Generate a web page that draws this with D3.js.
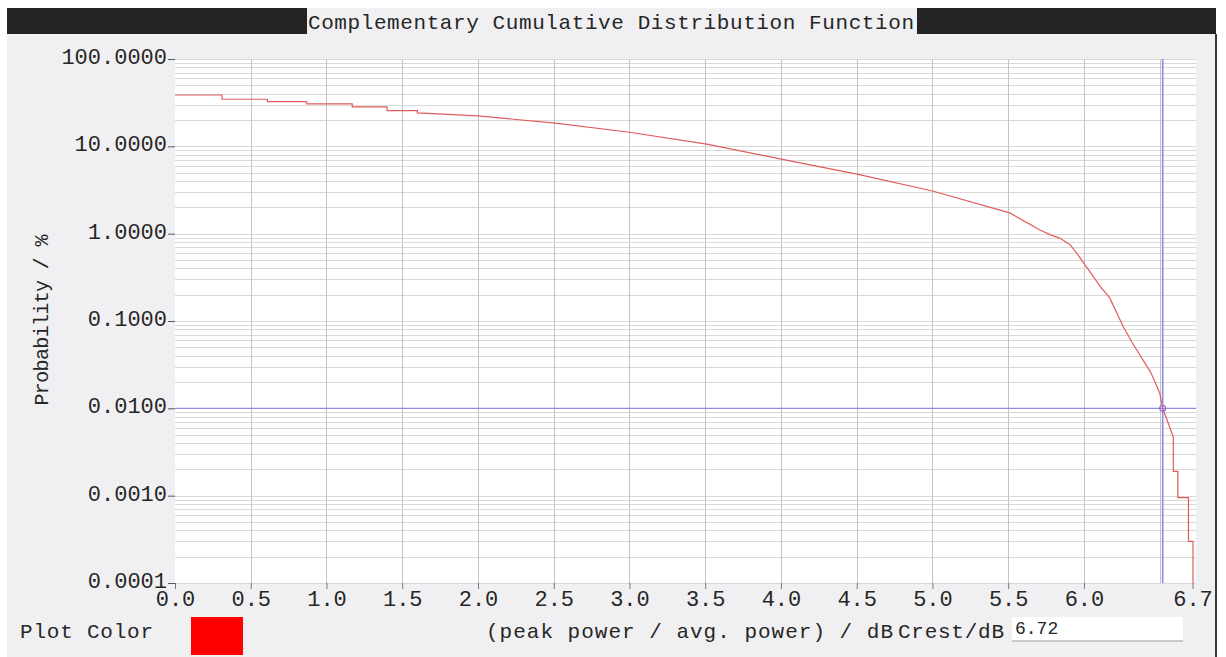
<!DOCTYPE html>
<html>
<head>
<meta charset="utf-8">
<script src="https://cdn.jsdelivr.net/npm/d3@7"></script>
<style>
  html, body { margin: 0; padding: 0; background: #fff; }
  svg { display: block; }
  text { font-family: "Liberation Mono", "DejaVu Sans Mono", monospace; fill: #262626; }
</style>
</head>
<body>
<svg id="chart" width="1226" height="657"></svg>
<script>
// CCDF curve (x in dB, y in %)
const ccdfDb  = [0.00, 0.31, 0.31, 0.61, 0.61, 0.87, 0.87, 1.17, 1.17, 1.40, 1.40, 1.60, 1.60, 2.00, 2.51, 3.00, 3.51, 4.01, 4.51, 5.00, 5.51, 5.71, 5.78, 5.84, 5.91, 5.97, 6.11, 6.17, 6.26, 6.32, 6.44, 6.50, 6.52, 6.59, 6.59, 6.62, 6.62, 6.69, 6.69, 6.72, 6.72];
const ccdfPct = [38.7, 38.7, 34.6, 34.6, 32.5, 32.5, 30.6, 30.6, 28.3, 28.3, 25.6, 25.6, 24.1, 22.3, 18.4, 14.5, 10.6, 7.10, 4.78, 3.08, 1.73, 1.10, 0.97, 0.89, 0.745, 0.543, 0.246, 0.184, 0.086, 0.056, 0.026, 0.0151, 0.0100, 0.0047, 0.0019, 0.0019, 0.00095, 0.00095, 0.0003, 0.0003, 0.0001];

const xTicks = [0, 0.5, 1, 1.5, 2, 2.5, 3, 3.5, 4, 4.5, 5, 5.5, 6];
const xEndLabel = 6.7;
const xMax = 6.72;
const yTicks = [0.0001, 0.001, 0.01, 0.1, 1, 10, 100];

const cursorDb = 6.52;
const cursorPct = 0.01;
const crestText = '6.72';

const svg = d3.select('#chart');

// panel + title bar
svg.append('rect').attr('x', 7).attr('y', 8).attr('width', 1209).attr('height', 649).attr('fill', '#f0f0f2');
svg.append('rect').attr('x', 7).attr('y', 8).attr('width', 300).attr('height', 26).attr('fill', '#232323');
svg.append('rect').attr('x', 917).attr('y', 8).attr('width', 299).attr('height', 26).attr('fill', '#232323');
svg.append('rect').attr('x', 1215).attr('y', 34).attr('width', 2).attr('height', 623).attr('fill', '#3a3a3a');
svg.append('text')
    .attr('x', 308).attr('y', 29)
    .attr('textLength', 606).attr('lengthAdjust', 'spacing')
    .style('font-size', '21px')
    .text('Complementary Cumulative Distribution Function');

const plotLeft = 175, plotRight = 1193, plotTop = 59, plotBottom = 583, gridRight = 1196;

const x = d3.scaleLinear().domain([0, xMax]).range([plotLeft, plotRight]);
const y = d3.scaleLog().domain([0.0001, 100]).range([plotBottom, plotTop]);

// plot area
svg.append('rect')
    .attr('x', plotLeft).attr('y', plotTop)
    .attr('width', gridRight - plotLeft).attr('height', plotBottom - plotTop)
    .attr('fill', '#ffffff');

// horizontal log grid
const minor = [];
yTicks.slice(0, -1).forEach(d => { for (let k = 1; k <= 9; k++) minor.push(d * k); });
minor.push(100);
svg.append('g').selectAll('line')
    .data(minor)
    .enter()
    .append('line')
    .attr('x1', plotLeft).attr('x2', gridRight)
    .attr('y1', d => Math.round(y(d)) + 0.5)
    .attr('y2', d => Math.round(y(d)) + 0.5)
    .attr('stroke', '#d9d9d9')
    .attr('stroke-width', 1);

// vertical grid
svg.append('g').selectAll('line')
    .data(xTicks.slice(1).concat([6.5]))
    .enter()
    .append('line')
    .attr('x1', d => Math.round(x(d)) + 0.5)
    .attr('x2', d => Math.round(x(d)) + 0.5)
    .attr('y1', plotTop).attr('y2', plotBottom)
    .attr('stroke', '#c4c4c4')
    .attr('stroke-width', 1);

// cursor
svg.append('line')
    .attr('x1', plotLeft).attr('x2', gridRight)
    .attr('y1', y(cursorPct)).attr('y2', y(cursorPct))
    .attr('stroke', '#8c8ce6').attr('stroke-width', 1.2);
svg.append('line')
    .attr('x1', x(cursorDb)).attr('x2', x(cursorDb))
    .attr('y1', plotTop).attr('y2', plotBottom)
    .attr('stroke', '#8c8ce6').attr('stroke-width', 1.6);

// curve
const line = d3.line()
    .x(d => x(d[0]))
    .y(d => y(d[1]));
svg.append('path')
    .datum(d3.zip(ccdfDb, ccdfPct))
    .attr('d', line)
    .attr('fill', 'none')
    .attr('stroke', '#e05c5c')
    .attr('stroke-width', 1.2);

svg.append('circle')
    .attr('cx', x(cursorDb)).attr('cy', y(cursorPct))
    .attr('r', 3)
    .attr('fill', 'none')
    .attr('stroke', '#9a6ad0')
    .attr('stroke-width', 1.2);

// y axis
const yAxis = svg.append('g')
    .attr('transform', `translate(${plotLeft},0)`)
    .call(d3.axisLeft(y).tickValues(yTicks).tickFormat(d3.format('.4f')).tickSize(7).tickPadding(1));
yAxis.select('.domain').remove();
yAxis.selectAll('line').attr('stroke', '#555');
yAxis.selectAll('text')
    .style('font-size', '22px')
    .style('font-family', '"Liberation Mono", monospace')
    .attr('fill', '#262626')
    .attr('dy', '0.2em');

// x axis
const xAxis = svg.append('g')
    .attr('transform', `translate(0,${plotBottom})`)
    .call(d3.axisBottom(x).tickValues(xTicks.concat([xEndLabel]))
        .tickFormat(d3.format('.1f')).tickSize(6).tickPadding(1));
xAxis.select('.domain').remove();
xAxis.selectAll('line').attr('stroke', '#777');
xAxis.selectAll('.tick').filter(d => d === xEndLabel)
    .attr('transform', `translate(${plotRight},0)`);
xAxis.selectAll('text')
    .style('font-size', '22px')
    .style('font-family', '"Liberation Mono", monospace')
    .attr('fill', '#262626')
    .attr('dy', '0.72em');

// y title
svg.append('text')
    .attr('transform', 'translate(48,320) rotate(-90)')
    .attr('text-anchor', 'middle')
    .attr('textLength', 171).attr('lengthAdjust', 'spacing')
    .style('font-size', '20px')
    .text('Probability / %');

// bottom controls
svg.append('text')
    .attr('x', 20).attr('y', 638)
    .attr('textLength', 133).attr('lengthAdjust', 'spacing')
    .style('font-size', '21px')
    .text('Plot Color');
svg.append('rect')
    .attr('x', 191).attr('y', 617).attr('width', 52).attr('height', 38)
    .attr('fill', '#ff0000');

svg.append('text')
    .attr('x', 486).attr('y', 638)
    .attr('textLength', 407).attr('lengthAdjust', 'spacing')
    .style('font-size', '21px')
    .text('(peak power / avg. power) / dB');
svg.append('text')
    .attr('x', 898).attr('y', 638)
    .attr('textLength', 106).attr('lengthAdjust', 'spacing')
    .style('font-size', '21px')
    .text('Crest/dB');

svg.append('rect')
    .attr('x', 1012).attr('y', 617).attr('width', 171).attr('height', 24)
    .attr('fill', '#ffffff');
svg.append('line')
    .attr('x1', 1012).attr('x2', 1183).attr('y1', 641).attr('y2', 641)
    .attr('stroke', '#9a9a9a');
svg.append('text')
    .attr('x', 1015).attr('y', 634)
    .style('font-size', '18px')
    .text(crestText);
</script>
</body>
</html>
